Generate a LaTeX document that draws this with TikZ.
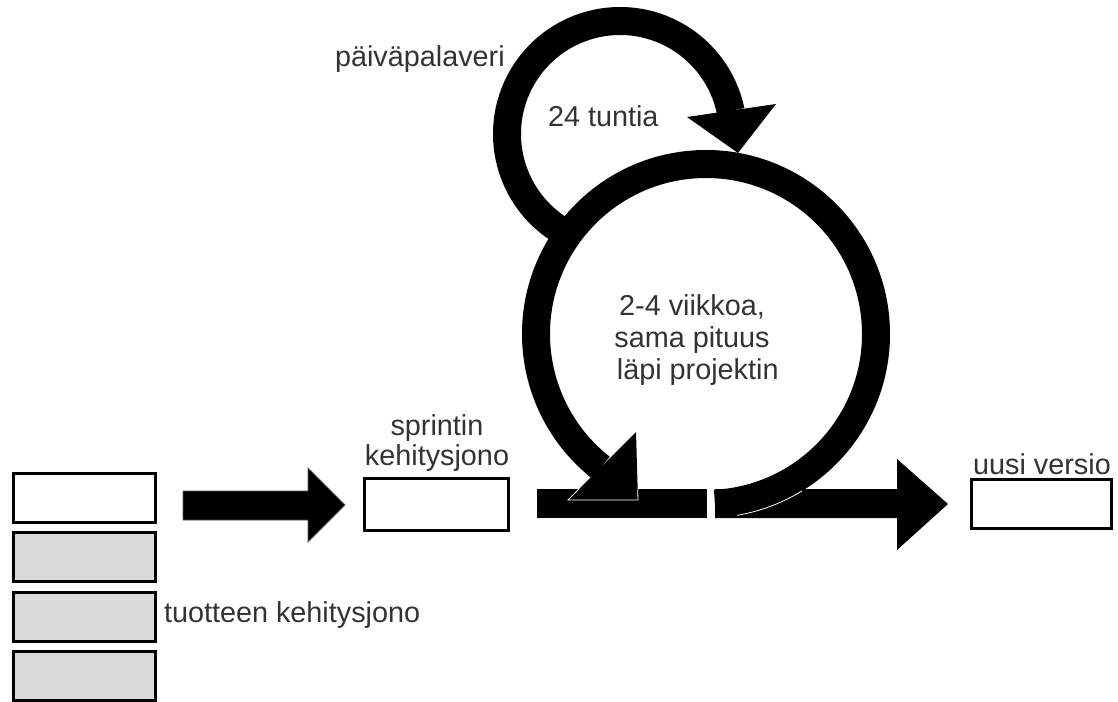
\documentclass[tikz,border=0pt]{standalone}
\usepackage{fontspec}
\setmainfont{Liberation Sans}
\definecolor{txt}{HTML}{333333}
\definecolor{stackfill}{HTML}{D9D9D9}
\begin{document}
\begin{tikzpicture}[x=0.75pt,y=-0.75pt,
  font=\fontsize{21.6}{24}\selectfont,
  lbl/.style={inner sep=0pt, outer sep=0pt, text=txt},
  box/.style={draw=black, line width=2.25pt, inner sep=0pt, outer sep=0pt,
              minimum width=106.5pt, minimum height=36.75pt},
  item/.style={box, fill=stackfill},
  ring/.style={draw=black, line width=21pt, line cap=butt},
  blockarrow/.style={fill=black, draw=black!65, line width=0.6pt},
  edge/.style={draw=white, line width=0.6pt}]
\useasboundingbox (0,0) rectangle (1118,702);

% product backlog stack
\node[box]  (b1) at (84.5,498)   {};
\node[item] (b2) at (84.5,556.5) {};
\node[item] (b3) at (84.5,617)   {};
\node[item] (b4) at (84.5,676)   {};
\node[lbl, anchor=base west] (pblabel) at (164,622) {tuotteen kehitysjono};

% sprint backlog and release boxes
\node[box, minimum width=108pt, minimum height=39pt] (sprint) at (436.5,504.5) {};
\node[lbl, align=center, anchor=base, font=\fontsize{21.6}{22.5}\selectfont] (sblabel)
  at (437,465) {sprintin\\kehitysjono};
\node[box, minimum width=105pt] (release) at (1041.5,504) {};
\node[lbl, anchor=base] (rlabel) at (1042,474) {uusi versio};

% block arrow: backlog -> sprint
\fill[blockarrow] (183,491) -- (308,491) -- (308,468) -- (345,505)
  -- (308,542) -- (308,520) -- (183,520) -- cycle;

% sprint work bar and outgoing arrow
\fill[black] (537,489) rectangle (707,518);
\fill[black] (715,489) -- (897,489) -- (897,459) -- (948,504)
  -- (897,550) -- (897,518) -- (715,518) -- cycle;

% loop centres
\coordinate (dayc) at (620,134);
\coordinate (sprc) at (706,334);

% daily loop
\draw[ring] (dayc) ++(120:113) arc[start angle=120, end angle=348.3, radius=113];
\coordinate (dh1) at (687,117);
\coordinate (dh2) at (776,104);
\coordinate (dht) at (738,153);
\fill[black] (dh1) -- (dh2) -- (dht) -- cycle;

% sprint loop
\draw[ring] (sprc) ++(87:170) arc[start angle=87, end angle=-231.8, radius=170];
\coordinate (sh1) at (568,500);
\coordinate (sh2) at (636,432);
\coordinate (sht) at (638,500);
\fill[black] (sh1) -- (sh2) -- (sht) -- cycle;

% thin light edges where the loop overlaps the bars
\begin{scope}
  \clip (537,489) rectangle (707,518);
  \draw[edge] (sh1) -- (sh2) -- (sht) -- cycle;
\end{scope}
\draw[edge] (sprc) ++(80.3:184) arc[start angle=80.3, end angle=58.6, radius=184];

% labels
\node[lbl, anchor=base west] (daily) at (335,67) {päiväpalaveri};
\node[lbl, anchor=base west] (hours) at (548,127) {24 tuntia};
\node[lbl, align=center] (sprintlen) at (692,340)
  {2-4 viikkoa,\\sama pituus\\\hspace*{0.4em}läpi projektin};
\end{tikzpicture}
\end{document}
